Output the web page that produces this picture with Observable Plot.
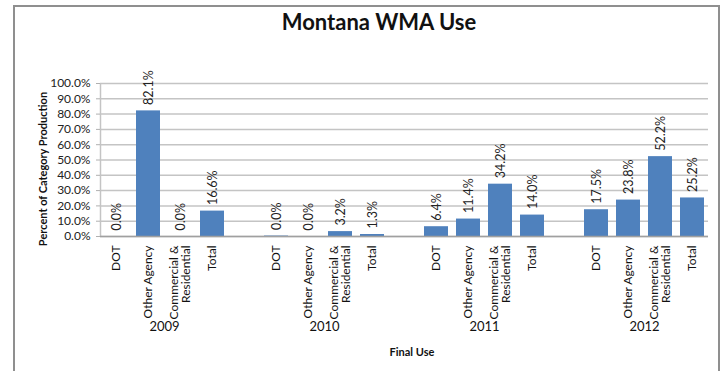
<!DOCTYPE html>
<html>
<head>
<meta charset="utf-8">
<script src="https://cdn.jsdelivr.net/npm/d3@7"></script>
<script src="https://cdn.jsdelivr.net/npm/@observablehq/plot@0.6"></script>
<style>
  html, body { margin: 0; padding: 0; background: #fff; }
  #wrap { position: relative; width: 727px; height: 371px; overflow: hidden; font-family: Lato, "Open Sans", sans-serif; }
  #border { position: absolute; left: 13px; top: 5px; width: 707px; height: 400px; border: 2px solid #8f8f8f; border-bottom: none; box-sizing: border-box; }
  #title { position: absolute; left: 0; width: 758px; top: 8px; text-align: center; font-size: 22px; font-weight: bold; color: #111; }
  #ytitle { position: absolute; left: 42px; top: 169px; transform: translate(-50%, -50%) rotate(-90deg); white-space: nowrap; font-size: 11px; font-weight: bold; color: #111; }
  #xtitle { position: absolute; left: 412px; top: 345px; transform: translateX(-50%); white-space: nowrap; font-size: 11px; font-weight: bold; color: #111; }
  #chart { position: absolute; left: 0; top: 0; }
</style>
</head>
<body>
<div id="wrap">
  <div id="border"></div>
  <div id="chart"></div>
  <div id="title">Montana WMA Use</div>
  <div id="ytitle">Percent of Category Production</div>
  <div id="xtitle">Final Use</div>
</div>
<script>
const years = ["2009", "2010", "2011", "2012"];
const categories = ["DOT", "Other Agency", "Commercial &\nResidential", "Total"];
const values = {
  "2009": [0.0, 82.1, 0.0, 16.6],
  "2010": [0.3, 0.0, 3.2, 1.3],
  "2011": [6.4, 11.4, 34.2, 14.0],
  "2012": [17.5, 23.8, 52.2, 25.2]
};
const valueLabels = {
  "2009": ["0.0%", "82.1%", "0.0%", "16.6%"],
  "2010": ["0.0%", "0.0%", "3.2%", "1.3%"],
  "2011": ["6.4%", "11.4%", "34.2%", "14.0%"],
  "2012": ["17.5%", "23.8%", "52.2%", "25.2%"]
};
const yTicks = [0, 10, 20, 30, 40, 50, 60, 70, 80, 90, 100];

const rows = [];
const domain = [];
years.forEach((yr, yi) => {
  if (yi > 0) domain.push("gap" + yr);
  categories.forEach((c, ci) => {
    const key = yr + "|" + c;
    domain.push(key);
    rows.push({key, year: yr, cat: c, value: values[yr][ci], label: valueLabels[yr][ci]});
  });
});
const catKeys = rows.map(d => d.key);
const yearKeys = years.map(y => y + "|" + categories[1]);

const W = 727, H = 371, ML = 100, MR = 19, MT = 83, MB = 135;
const step = (W - ML - MR) / domain.length;

const chart = Plot.plot({
  width: W,
  height: H,
  marginLeft: ML,
  marginRight: MR,
  marginTop: MT,
  marginBottom: MB,
  style: {fontFamily: "Lato, 'Open Sans', sans-serif", fontSize: "12px", color: "#222", background: "transparent"},
  x: {domain, paddingInner: 0.25, paddingOuter: 0.125, axis: null},
  y: {domain: [0, 100], axis: null},
  marks: [
    Plot.gridY(yTicks, {stroke: "#c4c4c4", strokeOpacity: 1, strokeWidth: 1.5}),
    Plot.ruleX([domain[0]], {y1: 0, y2: 100, dx: -step / 2, stroke: "#c4c4c4", strokeWidth: 1.5}),
    Plot.axisY({ticks: yTicks, tickFormat: d => d.toFixed(1) + "%", tickSize: 4, tickPadding: 6, stroke: "#b0b0b0", label: null, fontSize: 12}),
    Plot.barY(rows, {x: "key", y: "value", fill: "#4f81bd"}),
    Plot.ruleY([0], {stroke: "#a0a0a0", strokeWidth: 1.5}),
    Plot.text(rows, {x: "key", y: "value", text: "label", rotate: -90, textAnchor: "start", dy: -6, fontSize: 12.5, fill: "#222"}),
    Plot.axisX({ticks: catKeys, tickFormat: k => k.split("|")[1], tickRotate: -90, tickSize: 0, tickPadding: 9, label: null, fontSize: 12, fill: "#111"}),
    Plot.axisX({ticks: yearKeys, tickFormat: k => k.split("|")[0], tickSize: 0, tickPadding: 85, dx: step / 2, label: null, fontSize: 13, fill: "#111"})
  ]
});
document.getElementById("chart").appendChild(chart);
</script>
</body>
</html>
